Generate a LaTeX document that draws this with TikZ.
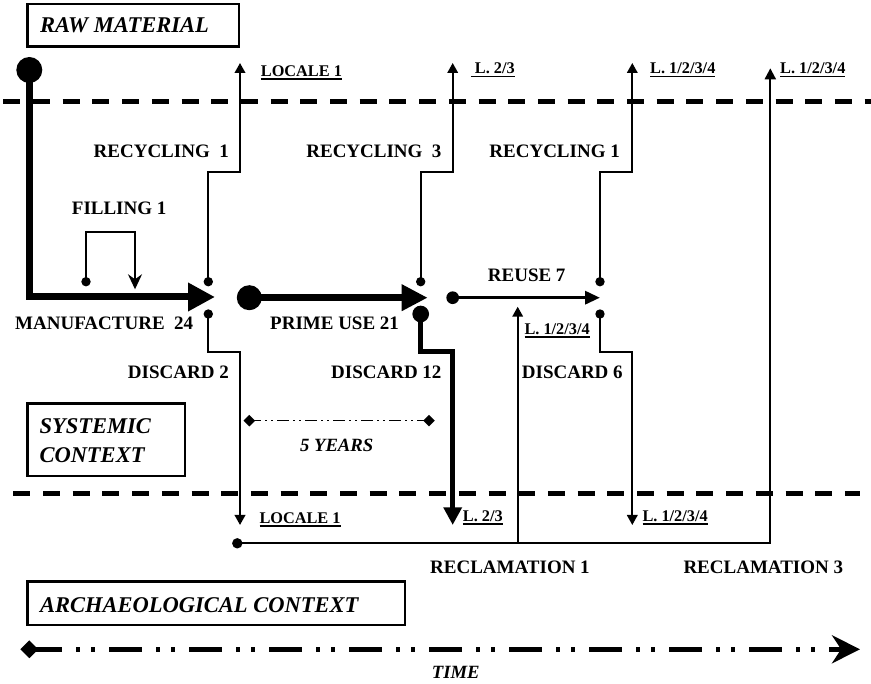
\documentclass[tikz,border=0pt]{standalone}
\usepackage{fontspec}
\setmainfont{Liberation Serif}
\usetikzlibrary{arrows.meta,shapes.geometric}
\newcommand{\myul}[1]{\vtop{\hbox{#1}\kern1.3pt\hrule height 1.9pt}}
\begin{document}
\begin{tikzpicture}[x=1pt,y=-1pt,
  lbl/.style={font=\fontsize{19}{22}\selectfont\bfseries, inner sep=0},
  loc/.style={font=\fontsize{16.3}{19}\selectfont\bfseries, inner sep=0},
  ctx/.style={font=\fontsize{22.5}{27}\selectfont\bfseries\itshape, inner sep=0},
  itl/.style={font=\fontsize{18.7}{22}\selectfont\bfseries\itshape, inner sep=0},
  frame/.style={draw, line width=2.7pt},
  sepline/.style={line width=4.8pt, dash pattern=on 17pt off 12.7pt},
  blob/.style={circle, fill, inner sep=0, minimum size=#1},
  dia/.style={diamond, fill, inner sep=0, minimum size=#1},
  thinline/.style={line width=2pt},
  tip/.style={-{Triangle[length=10pt,width=10.5pt]}},
]
\useasboundingbox (0,0) rectangle (871,684);

% context boxes
\draw[frame] (27.7,4) rectangle (239,46.7);
\node[ctx, anchor=base west] (rawt) at (40,33) {RAW MATERIAL};
\draw[frame] (27.7,403.3) rectangle (185,476);
\node[ctx, anchor=base west] (syst1) at (39.3,433.3) {SYSTEMIC};
\node[ctx, anchor=base west] (syst2) at (39.3,462.7) {CONTEXT};
\draw[frame] (27.7,581.7) rectangle (405,625);
\node[ctx, anchor=base west] (arch) at (40,612.7) {ARCHAEOLOGICAL CONTEXT};

% separators
\draw[sepline] (3.3,101.7) -- (871,101.7);
\draw[sepline] (13.3,493.3) -- (860,493.3);

% manufacture
\node[blob=26] (raw) at (29.3,70) {};
\coordinate (mfgtip) at (215,297);
\draw[line width=7pt, -{Triangle[length=27pt,width=27pt]}] (raw.center) |- (mfgtip);
\node[lbl, anchor=base west] (mfgl) at (15,330) {MANUFACTURE\ \ 24};

% filling
\node[blob=9.4] (fil) at (86,281.7) {};
\coordinate (filend) at (135,289.3);
\draw[thinline, -{Stealth[length=15pt,width=14pt,inset=5pt]}] (fil.center) -- ++(0,-49.4) -| (filend);
\node[lbl, anchor=base west] (fill) at (71.7,215) {FILLING 1};

% recycling 1 (first)
\node[blob=9.4] (ra) at (208.3,281.7) {};
\coordinate (ratop) at (240,63);
\draw[thinline, tip] (ra.center) -- ++(0,-110) -| (ratop);
\node[lbl, anchor=base east] (ral) at (229,158) {RECYCLING\ \ 1};
\node[loc, anchor=base west] (ratl) at (260.7,76.5) {\myul{LOCALE 1}};

% discard 2
\node[blob=9.4] (da) at (208.3,314) {};
\coordinate (daend) at (240,525);
\draw[thinline, tip] (da.center) -- ++(0,37.7) -| (daend);
\node[lbl, anchor=base east] (dal) at (229,379) {DISCARD 2};
\node[loc, anchor=base west] (dael) at (259.3,523.5) {\myul{LOCALE 1}};

% prime use
\node[blob=25] (pu) at (249.3,297.7) {};
\coordinate (putip) at (427.7,297.7);
\draw[line width=7.5pt, -{Triangle[length=26pt,width=25pt]}] (pu.center) -- (putip);
\node[lbl, anchor=base west] (pul) at (270,330) {PRIME USE 21};

% recycling 3
\node[blob=9.4] (rb) at (420.7,281.7) {};
\coordinate (rbtop) at (452.7,63);
\draw[thinline, tip] (rb.center) -- ++(0,-110) -| (rbtop);
\node[lbl, anchor=base east] (rbl) at (441.7,158) {RECYCLING\ \ 3};
\node[loc, anchor=base west] (rbtl) at (470.7,74) {\myul{~L. 2/3}};

% discard 12
\node[blob=16.7] (db) at (420.7,314) {};
\coordinate (dbend) at (452.7,525);
\draw[line width=4.5pt, -{Triangle[length=17.7pt,width=17.7pt]}] (db.center) -- ++(0,37.7) -| (dbend);
\node[lbl, anchor=base east] (dbl) at (441.7,379) {DISCARD 12};
\node[loc, anchor=base west] (dbel) at (462.7,521.7) {\myul{L. 2/3}};

% reuse 7
\node[blob=12.7] (ru) at (452.7,297.7) {};
\coordinate (rutip) at (600,297.7);
\draw[line width=3.3pt, -{Triangle[length=15pt,width=13pt]}] (ru.center) -- (rutip);
\node[lbl, anchor=base west] (rul) at (487.7,281.7) {REUSE 7};

% recycling 1 (second)
\node[blob=9.4] (rc) at (600,281.7) {};
\coordinate (rctop) at (632.3,63);
\draw[thinline, tip] (rc.center) -- ++(0,-110) -| (rctop);
\node[lbl, anchor=base east] (rcl) at (620,158) {RECYCLING 1};
\node[loc, anchor=base west] (rctl) at (650,74) {\myul{L. 1/2/3/4}};

% discard 6
\node[blob=9.4] (dc) at (600,314) {};
\coordinate (dcend) at (632.3,525);
\draw[thinline, tip] (dc.center) -- ++(0,37.7) -| (dcend);
\node[lbl, anchor=base west] (dcl) at (521.7,379) {DISCARD 6};
\node[loc, anchor=base west] (dcel) at (642.3,521.7) {\myul{L. 1/2/3/4}};

% reclamation
\node[blob=10.4] (rec) at (237.3,543.3) {};
\coordinate (recatop) at (770.3,68.3);
\draw[thinline, -{Triangle[length=11pt,width=11pt]}] (rec.center) -| (recatop);
\coordinate (recbbase) at (517.7,543.3);
\coordinate (recbtop) at (517.7,306.7);
\draw[thinline, tip] (recbbase) -- (recbtop);
\node[loc, anchor=base west] (recbl) at (524.3,334.5) {\myul{L. 1/2/3/4}};
\node[loc, anchor=base west] (recal) at (780,74) {\myul{L. 1/2/3/4}};
\node[lbl, anchor=base west] (recb) at (430,573.3) {RECLAMATION 1};
\node[lbl, anchor=base west] (reca) at (683.3,573.3) {RECLAMATION 3};

% 5 years
\node[dia=11.7] (ya) at (249.3,420.7) {};
\node[dia=11.7] (yb) at (429,420.7) {};
\draw[line width=1.6pt, dash pattern=on 12pt off 4pt on 2pt off 4pt on 2pt off 4pt] (ya.center) -- (yb.center);
\node[itl, anchor=base] (yl) at (336.7,451.7) {5 YEARS};

% time
\node[dia=18] (ta) at (29.3,649.3) {};
\coordinate (ttip) at (860,649.3);
\draw[line width=4.5pt, dash pattern=on 33pt off 14pt on 4pt off 11pt on 4pt off 14pt, -{Stealth[length=28pt,width=28pt]}] (ta.center) -- (ttip);
\node[itl, anchor=base west] (tl) at (431.7,678.3) {TIME};
\end{tikzpicture}
\end{document}
